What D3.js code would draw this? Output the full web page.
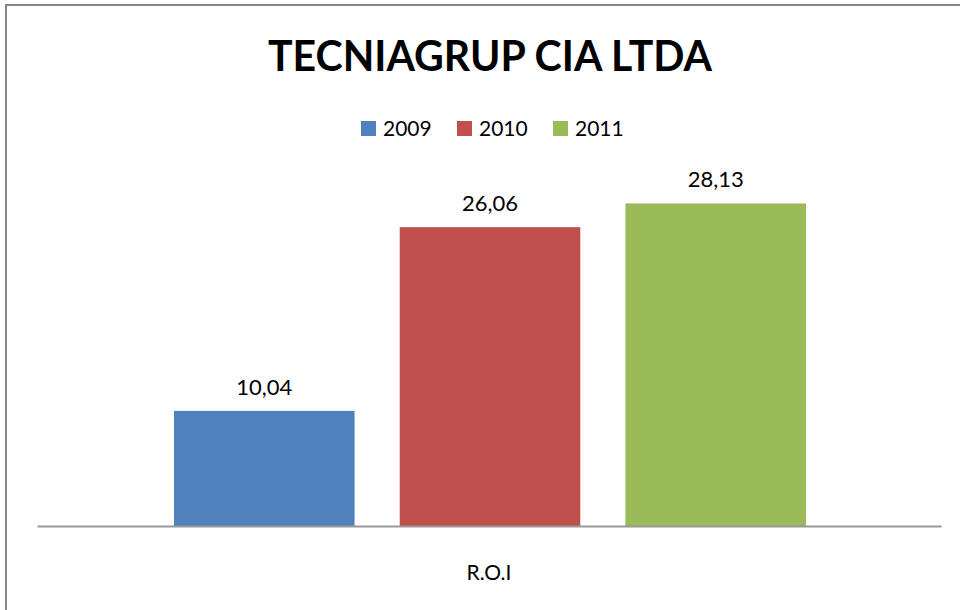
<!DOCTYPE html>
<html lang="en">
<head>
  <meta charset="UTF-8">
  <title>TECNIAGRUP CIA LTDA</title>
  <script src="https://d3js.org/d3.v7.min.js"></script>
  <style>
    body { margin: 0; background: #fff; }
    svg text { font-family: Lato, "Open Sans", sans-serif; fill: #000; }
  </style>
</head>
<body>
  <div id="chart"></div>
  <script>
    // chart data
    const categories = ['R.O.I'];
    const years = ['2009', '2010', '2011'];
    const roi = [10.04, 26.06, 28.13];
    const colors = ['#4f81bd', '#c0504d', '#9bbb59'];

    const width = 960, height = 610;
    const margin = { top: 182, right: 19, bottom: 84, left: 37 };

    const svg = d3.select('#chart').append('svg')
      .attr('width', width)
      .attr('height', height);

    // chart frame (right and bottom edges fall outside the window)
    svg.append('rect')
      .attr('x', 6).attr('y', 5)
      .attr('width', 970).attr('height', 620)
      .attr('fill', 'none')
      .attr('stroke', '#878787')
      .attr('stroke-width', 2);

    // title
    svg.append('text')
      .attr('x', 490).attr('y', 71)
      .attr('text-anchor', 'middle')
      .attr('font-size', 42)
      .attr('font-weight', 'bold')
      .attr('textLength', 444)
      .attr('lengthAdjust', 'spacingAndGlyphs')
      .text('TECNIAGRUP CIA LTDA');

    const x0 = d3.scaleBand()
      .domain(categories)
      .range([margin.left, width - margin.right]);

    const x1 = d3.scaleBand()
      .domain(years)
      .range([x0(categories[0]) + 137, x0(categories[0]) + x0.bandwidth() - 135])
      .paddingInner(0.2);

    const y = d3.scaleLinear()
      .domain([0, 30])
      .range([height - margin.bottom, margin.top]);

    const rows = years.map((yr, i) => ({ year: yr, value: roi[i], color: colors[i] }));

    // bars
    svg.selectAll('rect.bar')
      .data(rows)
      .enter().append('rect')
      .attr('class', 'bar')
      .attr('x', d => x1(d.year))
      .attr('y', d => y(d.value))
      .attr('width', x1.bandwidth())
      .attr('height', d => y(0) - y(d.value))
      .attr('fill', d => d.color);

    // value labels
    svg.selectAll('text.val')
      .data(rows)
      .enter().append('text')
      .attr('class', 'val')
      .attr('x', d => x1(d.year) + x1.bandwidth() / 2)
      .attr('y', d => y(d.value) - 16)
      .attr('text-anchor', 'middle')
      .attr('font-size', 22)
      .text(d => d3.format('.2f')(d.value).replace('.', ','));

    // category axis
    const xAxis = svg.append('g')
      .attr('transform', `translate(0,${y(0)})`)
      .call(d3.axisBottom(x0).tickSize(0).tickPadding(39));
    xAxis.select('.domain')
      .attr('stroke', '#989898')
      .attr('stroke-width', 2);
    xAxis.selectAll('.tick text')
      .attr('font-size', 21)
      .attr('font-family', 'Lato, "Open Sans", sans-serif')
      .attr('fill', '#000');

    // legend
    const legendX = [361, 457, 553];
    const legend = svg.selectAll('g.leg')
      .data(rows)
      .enter().append('g')
      .attr('class', 'leg')
      .attr('transform', (d, i) => `translate(${legendX[i]},121)`);
    legend.append('rect')
      .attr('width', 15).attr('height', 15)
      .attr('fill', d => d.color);
    legend.append('text')
      .attr('x', 22).attr('y', 15)
      .attr('font-size', 21)
      .text(d => d.year);
  </script>
</body>
</html>
